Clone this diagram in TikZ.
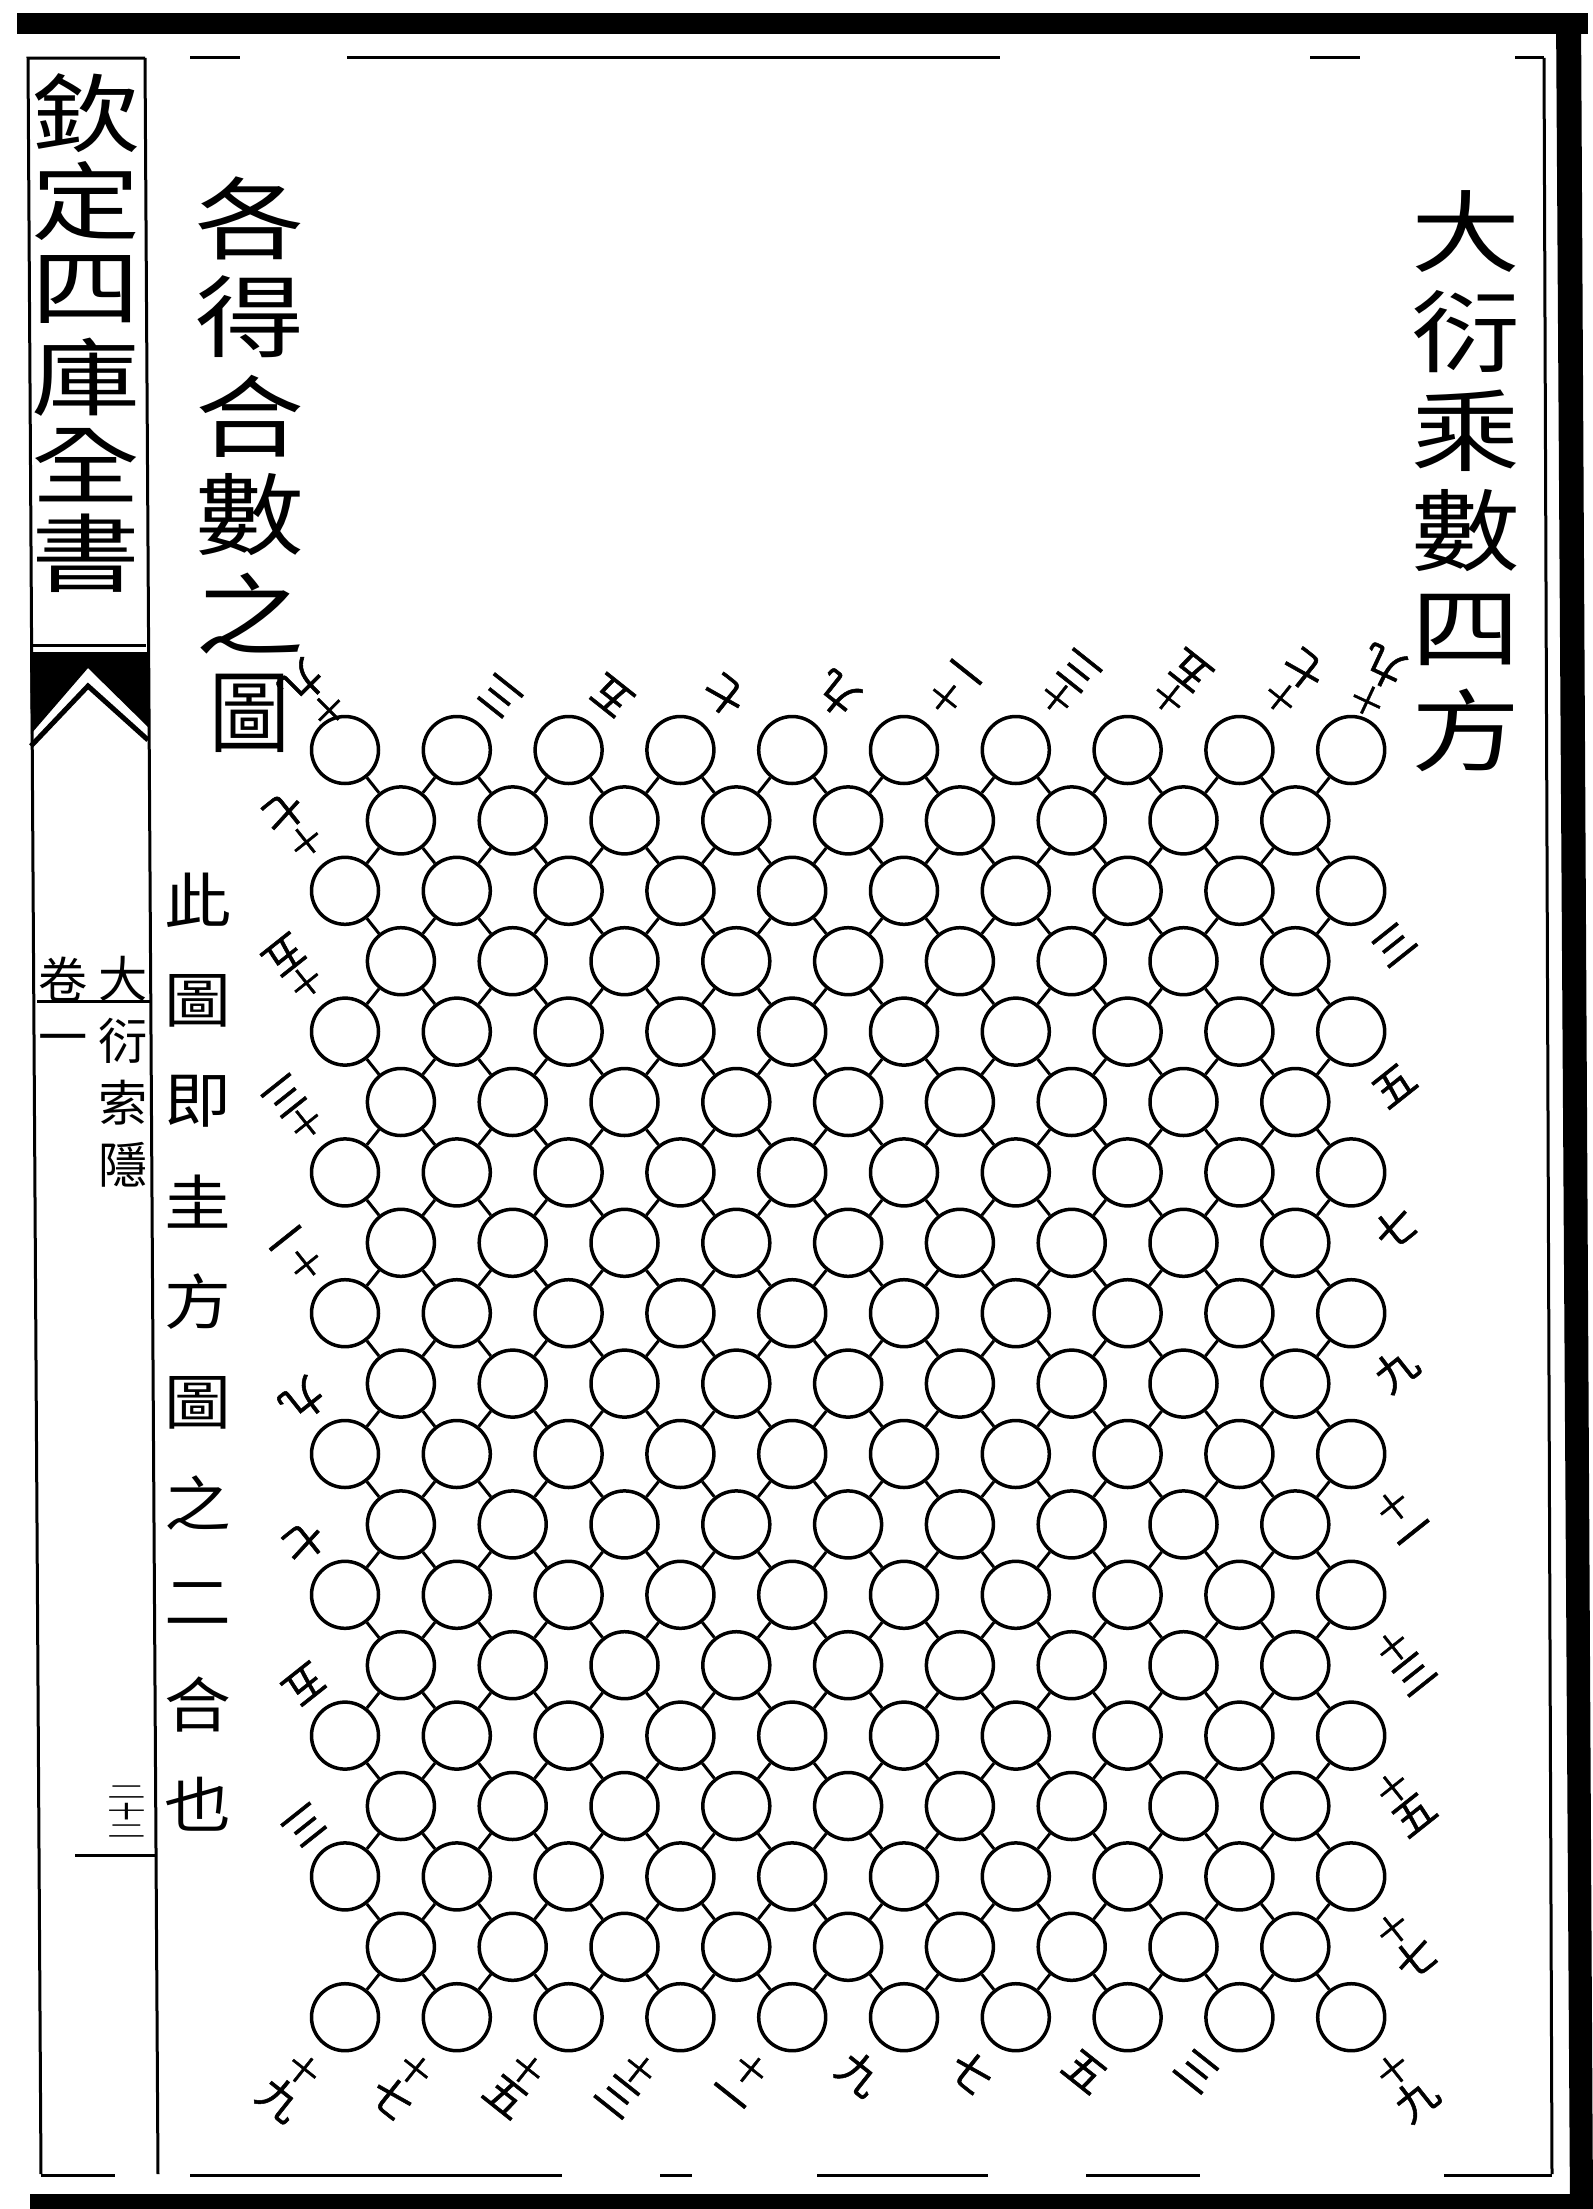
\documentclass[tikz,border=0pt]{standalone}
\usepackage{fontspec}
\usepackage{graphicx}
\usepackage{tikz}
\usetikzlibrary{calc}
\newfontfamily\kai{Noto Sans CJK TC}
\newfontfamily\kainum[FakeBold=1.2]{Noto Sans CJK TC}
\newcommand{\flatch}[1]{\scalebox{1}[0.82]{#1}}
\newcommand{\numtwo}[2]{{\fontsize{9pt}{9pt}\selectfont #1}\\#2}
\tikzset{
  ring/.style={circle,draw,line width=0.35mm,minimum size=6.7mm,inner sep=0pt},
  link/.style={line width=0.3mm},
  num/.style={font=\kainum\fontsize{12pt}{10.5pt}\selectfont,inner sep=0pt,anchor=north,align=center},
  bigch/.style={font=\kai\fontsize{31pt}{31pt}\selectfont,inner sep=0pt},
  midch/.style={font=\kai\fontsize{19pt}{19pt}\selectfont,inner sep=0pt},
  smallch/.style={font=\kai\fontsize{14pt}{14pt}\selectfont,inner sep=0pt},
  rule/.style={line width=0.3mm},
}
\begin{document}
\begin{tikzpicture}[x=0.1mm,y=-0.1mm]
\useasboundingbox (0,0) rectangle (1593,2209);
% page frame
\fill (17,13) rectangle (1588,34);
\fill (1556,13) -- (1581,13) -- (1593,2209) -- (1570,2209) -- cycle;
\fill (30,2194) rectangle (1593,2209);
\draw[rule] (1544,58) -- (1552,2174);
\foreach \a/\b in {190/240,347/1000,1310/1360,1515/1544}{\draw[rule] (\a,57) -- (\b,57);}
\foreach \a/\b in {41/115,190/562,660/692,817/988,1086/1200,1444/1552}{\draw[rule] (\a,2175) -- (\b,2175);}
% side column
\draw[rule] (145,58) -- (28,58) -- (41,2174);
\draw[rule] (145,58) -- (158,2174);
\draw[rule] (30,645) -- (146,645);
\fill (30,652) -- (148,652) -- (148,727) -- (88,668) -- (31,734) -- cycle;
\draw[line width=0.5mm] (31,746) -- (88,686) -- (148,740);
\draw[rule] (37,1001) -- (151,1001);
\draw[rule] (75,1855) -- (157,1855);
\foreach \ch [count=\i] in {欽,定,四,庫,全,書}{\node[bigch] (side\i) at (86,{113+88*(\i-1)}) {\scalebox{1}[0.78]{\ch}};}
\foreach \ch [count=\i] in {大,衍,索,隱}{\node[smallch] (book\i) at (123,{979+62*(\i-1)}) {\ch};}
\node[smallch] (vol1) at (63,979) {卷};
\node[smallch] (vol2) at (63,1045) {一};
\node[font=\kai\fontsize{11pt}{11pt}\selectfont,inner sep=0pt] (page) at (127,1814)
  {\scalebox{1}[0.47]{\begin{tabular}{@{}c@{}}二\\十\\二\end{tabular}}};
% titles
\foreach \ch/\w [count=\i] in {各/1,得/1,合/1,數/1,之/1,圖/0.74}{\node[bigch] (ttl\i) at (250,{218+99*(\i-1)}) {\scalebox{\w}[0.82]{\ch}};}
\foreach \ch [count=\i] in {大,衍,乘,數,四,方}{\node[bigch] (ttr\i) at (1466,{232+99.6*(\i-1)}) {\flatch{\ch}};}
\foreach \ch [count=\i] in {此,圖,即,圭,方,圖,之,二,合,也}{\node[midch] (note\i) at (198,{900+100.5*(\i-1)}) {\scalebox{1}[0.9]{\ch}};}
% circles
\foreach \r in {1,...,19}{\foreach \h in {0,...,18}{%
  \pgfmathtruncatemacro{\s}{mod(\r+\h,2)}
  \ifnum\s=1 \node[ring] (c\r-\h) at ({345+55.9*\h},{750+70.4*(\r-1)}) {};\fi}}
\foreach \r in {1,...,18}{\foreach \h in {0,...,18}{%
  \pgfmathtruncatemacro{\s}{mod(\r+\h,2)}
  \pgfmathtruncatemacro{\rn}{\r+1}
  \pgfmathtruncatemacro{\hl}{\h-1}
  \pgfmathtruncatemacro{\hr}{\h+1}
  \ifnum\s=1
    \ifnum\h>0 \draw[link] (c\r-\h) -- (c\rn-\hl);\fi
    \ifnum\h<18 \draw[link] (c\r-\h) -- (c\rn-\hr);\fi
  \fi}}
% numbers on the four sides
\foreach \h/\txt in {2/三,4/五,6/七,8/九,10/\numtwo{十}{一},12/\numtwo{十}{三},14/\numtwo{十}{五},16/\numtwo{十}{七}}
  {\node[num,rotate=141.5] (top\h) at ($(c1-\h)+(32.4,-40.8)$) {\txt};}
\node[num,rotate=155] (top18) at ($(c1-18)+(10,-36)$) {\numtwo{十}{九}};
\node[num,rotate=-135] (left1) at ($(c1-0)+(-6,-30)$) {\numtwo{十}{九}};
\foreach \r/\txt in {3/\numtwo{十}{七},5/\numtwo{十}{五},7/\numtwo{十}{三},9/\numtwo{十}{一},11/九,13/七,15/五,17/三}
  {\node[num,rotate=-141.5] (left\r) at ($(c\r-0)+(-30,-38)$) {\txt};}
\foreach \h/\txt in {0/\numtwo{十}{九},2/\numtwo{十}{七},4/\numtwo{十}{五},6/\numtwo{十}{三},8/\numtwo{十}{一},10/九,12/七,14/五,16/三}
  {\node[num,rotate=-38.5] (bot\h) at ($(c19-\h)+(-32.4,40.8)$) {\txt};}
\foreach \r/\txt in {3/三,5/五,7/七,9/九,11/\numtwo{十}{一},13/\numtwo{十}{三},15/\numtwo{十}{五},17/\numtwo{十}{七},19/\numtwo{十}{九}}
  {\node[num,rotate=38.5] (right\r) at ($(c\r-18)+(32.4,40.8)$) {\txt};}
\end{tikzpicture}
\end{document}
